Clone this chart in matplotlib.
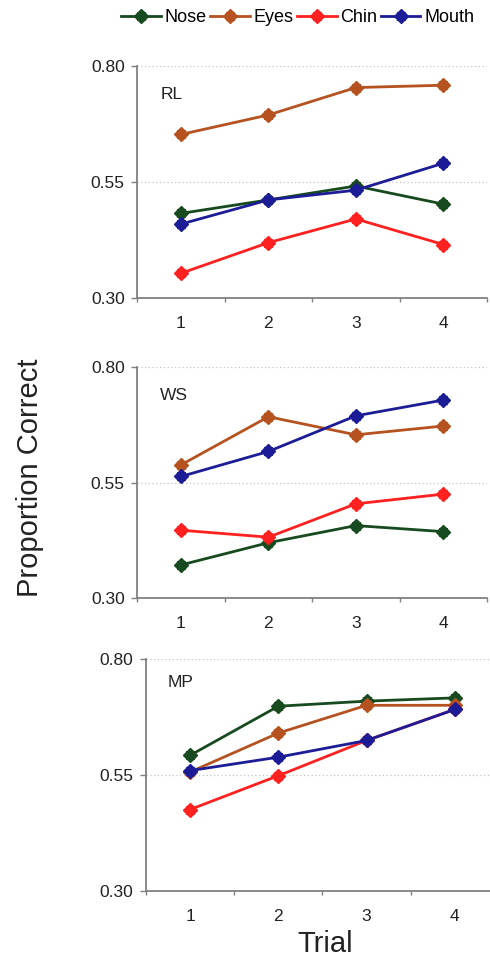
import matplotlib
matplotlib.use("Agg")
import matplotlib.pyplot as plt
from matplotlib.lines import Line2D

plt.rcParams['font.family'] = ['Liberation Sans', 'DejaVu Sans']

trials = [1, 2, 3, 4]
tick_labels = ["1", "2", "3", "4"]
series_names = ["Nose", "Eyes", "Chin", "Mouth"]
colors = {"Nose": "#174a1e", "Eyes": "#b5521f", "Chin": "#ff2020", "Mouth": "#1c1c96"}

panel_names = ["RL", "WS", "MP"]

rl_nose = [0.482, 0.511, 0.541, 0.502]
rl_eyes = [0.652, 0.694, 0.753, 0.758]
rl_chin = [0.353, 0.419, 0.470, 0.415]
rl_mouth = [0.459, 0.511, 0.532, 0.590]

ws_nose = [0.372, 0.420, 0.457, 0.444]
ws_eyes = [0.588, 0.692, 0.653, 0.672]
ws_chin = [0.447, 0.432, 0.504, 0.525]
ws_mouth = [0.563, 0.617, 0.694, 0.728]

mp_nose = [0.593, 0.699, 0.710, 0.717]
mp_eyes = [0.557, 0.641, 0.701, 0.701]
mp_chin = [0.476, 0.549, 0.625, 0.692]
mp_mouth = [0.560, 0.589, 0.625, 0.692]

panels = {
    "RL": {"Nose": rl_nose, "Eyes": rl_eyes, "Chin": rl_chin, "Mouth": rl_mouth},
    "WS": {"Nose": ws_nose, "Eyes": ws_eyes, "Chin": ws_chin, "Mouth": ws_mouth},
    "MP": {"Nose": mp_nose, "Eyes": mp_eyes, "Chin": mp_chin, "Mouth": mp_mouth},
}
yticks = [0.30, 0.55, 0.80]
ytick_labels = ["0.30", "0.55", "0.80"]

fig = plt.figure(figsize=(4.9, 9.61), dpi=100)

positions = [
    [0.280, 0.690, 0.714, 0.2416],
    [0.280, 0.3774, 0.714, 0.2410],
    [0.298, 0.0728, 0.720, 0.2410],
]
label_pos = [(0.066, 0.874), (0.066, 0.876), (0.062, 0.90)]

line_kw = dict(lw=2.0, marker='D', ms=7, mew=1.0, solid_joinstyle='round')
sq_kw = dict(lw=0, marker='s', ms=5.5, mew=0.8)

spine_col = "#808080"
for i, name in enumerate(panel_names):
    ax = fig.add_axes(positions[i])
    for s in series_names:
        ax.plot(trials, panels[name][s], color=colors[s], mec=colors[s],
                mfc=colors[s], zorder=3, **line_kw)
        ax.plot(trials, panels[name][s], color=colors[s], mec=colors[s],
                mfc=colors[s], zorder=3, **sq_kw)
    ax.set_xlim(0.5, 4.5)
    ax.set_ylim(0.30, 0.80)
    for v in [0.55, 0.80]:
        ax.axhline(v, color="#c4c4c4", lw=0.9, ls=(0, (1, 2)), zorder=1)
    for sp in ["top", "right"]:
        ax.spines[sp].set_visible(False)
    for sp in ["left", "bottom"]:
        ax.spines[sp].set_color(spine_col)
        ax.spines[sp].set_linewidth(1.3)
    ax.set_yticks(yticks)
    ax.set_yticklabels(ytick_labels)
    ax.set_xticks([0.5, 1.5, 2.5, 3.5, 4.5])
    ax.set_xticklabels([])
    ax.set_xticks(trials, minor=True)
    ax.set_xticklabels(tick_labels, minor=True)
    ax.tick_params(axis='y', which='major', length=4, width=1.0, color=spine_col,
                   labelsize=12.5, pad=5, labelcolor="#222222")
    ax.tick_params(axis='x', which='major', length=3, width=1.0, color=spine_col)
    ax.tick_params(axis='x', which='minor', length=0, labelsize=12.5, pad=13,
                   labelcolor="#222222")
    ax.text(label_pos[i][0], label_pos[i][1], name, transform=ax.transAxes,
            fontsize=12.5, ha='left', va='center', color="#222222")
    ax.patch.set_alpha(0)

fig.text(30 / 490, 0.503, "Proportion Correct", rotation=90, fontsize=21,
         ha='center', va='center', color="#222222")
fig.text(0.663, 1 - 952 / 961, "Trial", fontsize=21, ha='center', va='baseline',
         color="#222222")

handles = [(Line2D([0], [0], color=colors[s], mec=colors[s], mfc=colors[s], **line_kw),
            Line2D([0], [0], color=colors[s], mec=colors[s], mfc=colors[s], **sq_kw))
           for s in series_names]
fig.legend(handles, series_names, loc='center', bbox_to_anchor=(0.607, 1 - 18 / 961),
           ncol=4, frameon=False, fontsize=13, handlelength=2.2, handletextpad=0.2,
           columnspacing=0.2, numpoints=1, borderpad=0, borderaxespad=0)

fig.savefig("out.png", dpi=100)
